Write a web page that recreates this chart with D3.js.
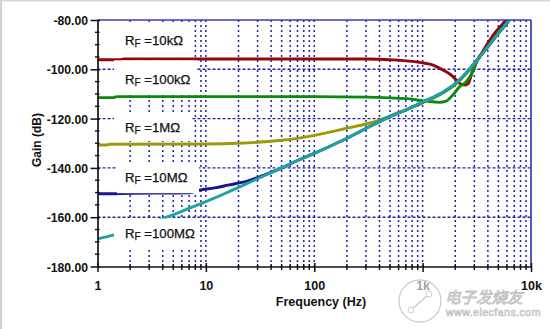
<!DOCTYPE html>
<html><head><meta charset="utf-8">
<script src="https://cdn.jsdelivr.net/npm/d3@7"></script>
<style>
html,body{margin:0;padding:0;background:#fff;}
svg{display:block;}
</style></head><body>
<svg id="chart" width="550" height="329"></svg>
<script>
// ---- data ----
const xTickValues = [1, 10, 100, 1000, 10000];
const xTickLabels = ["1", "10", "100", "1k", "10k"];
const yTickValues = [-80, -100, -120, -140, -160, -180];
const yTickLabels = ["-80.00", "-100.00", "-120.00", "-140.00", "-160.00", "-180.00"];
const resistorLabels = ["10kΩ", "100kΩ", "1MΩ", "10MΩ", "100MΩ"];

// RF = 10k
const freqR10k = [1, 1.6, 1.75, 10, 100, 300, 400, 600, 800, 1000, 1250, 1540, 1840, 2040, 2200, 2450, 2640, 2810, 3000, 3500, 4450, 5500, 6300, 7000];
const gainR10k = [-96.1, -96.1, -95.8, -95.8, -95.8, -95.8, -95.9, -96.3, -96.8, -97.4, -98.3, -100.3, -102.4, -104.3, -105.7, -106.4, -105.7, -102.3, -98.5, -93.5, -86.3, -81.5, -78.5, -76];
// RF = 100k
const freqR100k = [1, 1.4, 1.5, 10, 100, 300, 500, 760, 1080, 1420, 1650, 1900, 2200, 2530, 2900, 3200, 4000, 5000, 6300, 7000];
const gainR100k = [-111.5, -111.5, -111.1, -111.1, -111.1, -111.3, -111.6, -112.0, -112.9, -113.4, -112.9, -110.4, -107.0, -105.0, -101.0, -96.5, -90.8, -85.3, -80, -77];
// RF = 1M
const freqR1M = [1, 1.2, 1.3, 10, 20, 30, 50, 70, 100, 150, 200, 300, 400, 600, 1000, 1500, 2000, 2500, 3000, 4000, 5000, 6300, 7000];
const gainR1M = [-130.7, -130.7, -130.4, -130.3, -130.0, -129.6, -128.8, -128.0, -126.8, -125.2, -123.9, -122.2, -120.6, -117.6, -113.6, -109.9, -106.2, -102.0, -97.8, -90.9, -85.4, -80, -77];
// RF = 10M
const freqR10M = [1, 1.5, 1.6, 7, 9, 12, 16, 24, 34, 48, 70, 100, 150, 200, 300, 500, 700, 1000, 1500, 2000, 2500, 3000, 4000, 5000, 6300, 7000];
const gainR10M = [-150.5, -150.5, -150.4, -150.1, -148.9, -148.1, -147.0, -145.4, -143.0, -140.4, -137.0, -134.1, -130.6, -128.0, -124.0, -119.2, -116.5, -113.3, -109.6, -105.8, -101.7, -97.6, -90.8, -85.3, -80, -77];
// RF = 100M
const freqR100M = [1, 1.2, 1.4, 2, 3, 4, 5, 7, 10, 15, 20, 30, 50, 70, 100, 150, 200, 300, 500, 700, 1000, 1500, 2000, 2500, 3000, 4000, 5000, 6300, 7000];
const gainR100M = [-168.8, -168.0, -167.3, -165.4, -162.8, -160.6, -159.0, -156.4, -153.7, -150.4, -147.9, -144.4, -140.0, -137.0, -134.1, -130.6, -128.0, -124.0, -119.2, -116.5, -113.3, -109.6, -105.8, -101.7, -97.6, -90.8, -85.3, -80, -77];

// ---- layout ----
const svg = d3.select("#chart");
const plot = { left: 97.5, right: 531, top: 20, bottom: 266.5 };
const x = d3.scaleLog().domain([1, 10000]).range([plot.left, plot.right]);
const y = d3.scaleLinear().domain([-180, -80]).range([plot.bottom, plot.top]);
const gridColor = "#2222a4";
const tickFont = "'Liberation Sans', Arial, sans-serif";

// page frame
svg.append("rect").attr("width", 550).attr("height", 329).attr("fill", "#fff");
svg.append("line").attr("x1", 1).attr("x2", 1).attr("y1", 0).attr("y2", 329).attr("stroke", "#d2d2d2").attr("stroke-width", 2);
svg.append("line").attr("x1", 0).attr("x2", 550).attr("y1", 0.75).attr("y2", 0.75).attr("stroke", "#d8d8d8").attr("stroke-width", 1.5);

// grid: dotted verticals at every decade step, dashed horizontals at labelled levels
const minorFreqs = [];
for (let d = 1; d <= 1000; d *= 10) for (let k = 1; k <= 9; k++) if (d * k > 1) minorFreqs.push(d * k);
const grid = svg.append("g");
grid.selectAll("line.v").data(minorFreqs).join("line")
  .attr("x1", d => x(d)).attr("x2", d => x(d))
  .attr("y1", plot.top).attr("y2", plot.bottom)
  .attr("stroke", gridColor).attr("stroke-width", 1.5).attr("stroke-dasharray", "2,3");
grid.selectAll("line.h").data(yTickValues.filter(v => v > -180 && v < -80)).join("line")
  .attr("x1", plot.left).attr("x2", plot.right)
  .attr("y1", d => y(d)).attr("y2", d => y(d))
  .attr("stroke", gridColor).attr("stroke-width", 1.4).attr("stroke-dasharray", "3,2");

// curves
svg.append("clipPath").attr("id", "clip").append("rect")
  .attr("x", plot.left).attr("y", plot.top).attr("width", plot.right - plot.left).attr("height", plot.bottom - plot.top);
const series = [
  { f: freqR10k, g: gainR10k, color: "#920808" },
  { f: freqR100k, g: gainR100k, color: "#0b8a0b" },
  { f: freqR1M, g: gainR1M, color: "#9c9a08" },
  { f: freqR10M, g: gainR10M, color: "#17178c" },
  { f: freqR100M, g: gainR100M, color: "#1ea3a3" }
];
const line = d3.line().x(d => x(d[0])).y(d => y(d[1])).curve(d3.curveMonotoneX);
const curves = svg.append("g").attr("clip-path", "url(#clip)");
series.forEach(s => {
  curves.append("path").datum(s.f.map((f, i) => [f, s.g[i]]))
    .attr("d", line).attr("fill", "none").attr("stroke", s.color)
    .attr("stroke-width", 2.9).attr("stroke-linejoin", "round");
});

// series labels on white panels
const labelPanels = [
  { x0: 114, x1: 192, y0: 25, y1: 57, base: 44.5 },
  { x0: 114, x1: 197, y0: 60.3, y1: 95, base: 83.5 },
  { x0: 114, x1: 192, y0: 112, y1: 141, base: 132 },
  { x0: 117, x1: 199, y0: 163, y1: 193.2, base: 182 },
  { x0: 114, x1: 199, y0: 218.6, y1: 249, base: 237.5 }
];
const labels = svg.append("g");
labelPanels.forEach((p, i) => {
  labels.append("rect").attr("x", p.x0).attr("y", p.y0)
    .attr("width", p.x1 - p.x0).attr("height", p.y1 - p.y0).attr("fill", "#fff");
  const t = labels.append("text").attr("x", 125).attr("y", p.base)
    .attr("font-family", tickFont).attr("font-size", 13.2).attr("fill", "#111")
    .attr("stroke", "#111").attr("stroke-width", 0.25);
  t.append("tspan").text("R");
  t.append("tspan").attr("font-size", 10).attr("dy", 2).text("F");
  t.append("tspan").attr("dy", -2).text(" =" + resistorLabels[i]);
});

// plot border: blue top/right, black axes left/bottom
svg.append("line").attr("x1", plot.left).attr("x2", plot.right).attr("y1", plot.top).attr("y2", plot.top)
  .attr("stroke", "#3a3ab8").attr("stroke-width", 1.3);
svg.append("line").attr("x1", plot.right).attr("x2", plot.right).attr("y1", plot.top).attr("y2", plot.bottom)
  .attr("stroke", "#3a3ab8").attr("stroke-width", 1.7);

// x axis
const xAxis = d3.axisBottom(x).tickValues(xTickValues)
  .tickFormat((d, i) => xTickLabels[i]).tickSizeInner(5.5).tickSizeOuter(0).tickPadding(9);
const gx = svg.append("g").attr("transform", `translate(0,${plot.bottom})`).call(xAxis);
gx.select(".domain").attr("stroke", "#111").attr("stroke-width", 1.7);
gx.selectAll(".tick line").attr("stroke", "#111").attr("stroke-width", 1.5).attr("y1", -3.5);
gx.selectAll(".tick text").attr("font-family", tickFont).attr("font-weight", "bold").attr("font-size", 12.5).attr("fill", "#111");
gx.selectAll("line.minor").data(minorFreqs.filter(f => !xTickValues.includes(f))).join("line")
  .attr("class", "minor").attr("x1", d => x(d)).attr("x2", d => x(d)).attr("y1", -2.5).attr("y2", 3.5)
  .attr("stroke", "#111").attr("stroke-width", 1.4);

// y axis
const yAxis = d3.axisLeft(y).tickValues(yTickValues)
  .tickFormat((d, i) => yTickLabels[i]).tickSizeInner(7).tickSizeOuter(0).tickPadding(2.5);
const gy = svg.append("g").attr("transform", `translate(${plot.left},0)`).call(yAxis);
gy.select(".domain").attr("stroke", "#111").attr("stroke-width", 1.7);
gy.selectAll(".tick line").attr("stroke", "#111").attr("stroke-width", 1.5).attr("x2", -7).attr("x1", 2.5);
gy.selectAll(".tick text").attr("font-family", tickFont).attr("font-weight", "bold").attr("font-size", 12.2)
  .attr("fill", "#111").attr("dy", "0.38em");
gy.selectAll("line.minor").data(d3.range(-175, -80, 5).filter(v => v % 20 !== 0)).join("line")
  .attr("class", "minor").attr("x1", -2.5).attr("x2", 2).attr("y1", d => y(d)).attr("y2", d => y(d))
  .attr("stroke", "#111").attr("stroke-width", 1.4);

// axis titles
svg.append("text").attr("x", 321).attr("y", 305.5).attr("text-anchor", "middle")
  .attr("font-family", tickFont).attr("font-weight", "bold").attr("font-size", 12.5).attr("fill", "#111")
  .text("Frequency (Hz)");
svg.append("text").attr("transform", "translate(41,140) rotate(-90)").attr("text-anchor", "middle")
  .attr("font-family", tickFont).attr("font-weight", "bold").attr("font-size", 12).attr("fill", "#111")
  .text("Gain (dB)");

// site mark in the lower right corner
const mark = svg.append("g");
mark.append("circle").attr("cx", 420).attr("cy", 301).attr("r", 21)
  .attr("fill", "#fff").attr("fill-opacity", 0.6).attr("stroke", "#cdcdcd").attr("stroke-width", 1.3);
mark.append("line").attr("x1", 411).attr("y1", 310).attr("x2", 429).attr("y2", 294)
  .attr("stroke", "#cdcdcd").attr("stroke-width", 1.6);
mark.append("circle").attr("cx", 411).attr("cy", 310).attr("r", 3).attr("fill", "#fff").attr("stroke", "#cdcdcd");
mark.append("circle").attr("cx", 429).attr("cy", 294).attr("r", 3).attr("fill", "#fff").attr("stroke", "#cdcdcd");
mark.append("text").attr("x", 445).attr("y", 303).attr("font-family", "'Noto Sans CJK SC', sans-serif")
  .attr("font-size", 15.5).attr("font-style", "italic").attr("fill", "#fff").attr("stroke", "#c2c2c2").attr("stroke-width", 0.9)
  .text("电子发烧友");
mark.append("text").attr("x", 446).attr("y", 316).attr("font-family", tickFont)
  .attr("font-size", 10.5).attr("letter-spacing", 0.5).attr("fill", "#fff").attr("stroke", "#c2c2c2").attr("stroke-width", 0.7)
  .text("www.elecfans.com");
</script>
</body></html>
